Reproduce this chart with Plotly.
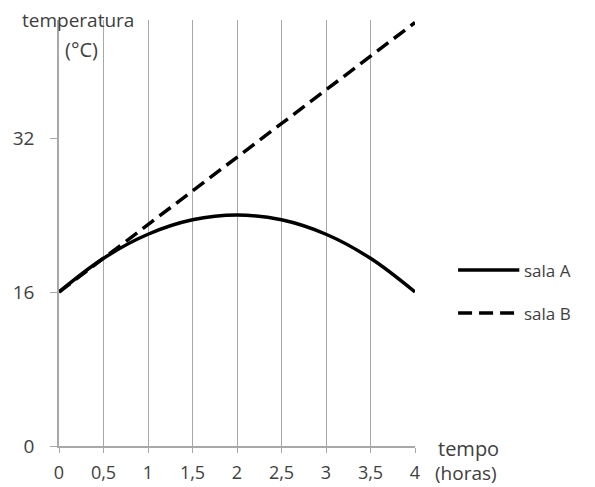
import plotly.graph_objects as go

tempo = [0, 0.5, 1, 1.5, 2, 2.5, 3, 3.5, 4]
sala_a = [16, 19.5, 22, 23.5, 24, 23.5, 22, 19.5, 16]
sala_b = [16, 19.5, 23, 26.5, 30, 33.5, 37, 40.5, 44]
x_ticks = [0, 0.5, 1, 1.5, 2, 2.5, 3, 3.5, 4]
x_labels = ["0", "0,5", "1", "1,5", "2", "2,5", "3", "3,5", "4"]
y_ticks = [0, 16, 32]
y_labels = ["0", "16", "32"]
series_names = ["sala A", "sala B"]

FONT = "Open Sans"
TXT = "#404040"
GRID = "#a8a8a8"
DASH = "14px,7px"

fig = go.Figure()
fig.add_trace(go.Scatter(x=tempo, y=sala_b, mode="lines", name=series_names[1],
                         line=dict(color="black", width=3.5, dash=DASH)))
fig.add_trace(go.Scatter(x=tempo, y=sala_a, mode="lines", name=series_names[0],
                         line=dict(color="black", width=3.5, shape="spline")))

# page is drawn with an 8px body offset, margins compensate
fig.update_layout(
    width=595, height=487,
    margin=dict(l=51, r=188, t=12, b=49, autoexpand=False),
    paper_bgcolor="white", plot_bgcolor="white",
    font=dict(family=FONT, size=19, color=TXT),
    showlegend=False,
    xaxis=dict(range=[0, 4], tickvals=x_ticks, ticktext=x_labels,
               showgrid=True, gridcolor=GRID, gridwidth=1.3,
               showline=True, linecolor=GRID, linewidth=1.5,
               ticks="outside", ticklen=5, tickcolor=GRID, tickwidth=1.3,
               ticklabelstandoff=5, automargin=False,
               zeroline=False, tickfont=dict(size=18, color=TXT)),
    yaxis=dict(range=[0, 44.26], tickvals=y_ticks, ticktext=y_labels,
               showgrid=False, showline=True, linecolor=GRID, linewidth=1.5,
               ticks="outside", ticklen=7, tickcolor=GRID, tickwidth=1.3,
               ticklabelstandoff=12, automargin=False,
               zeroline=False, tickfont=dict(size=19, color=TXT)),
)

# manual legend keys
leg_y = [0.413, 0.312]
leg_dash = ["solid", DASH]
for name, yy, d in zip(series_names, leg_y, leg_dash):
    fig.add_shape(type="line", xref="paper", yref="paper",
                  x0=1.121, x1=1.293, y0=yy, y1=yy,
                  line=dict(color="black", width=3.5, dash=d))
    fig.add_annotation(text=name, xref="paper", yref="paper",
                       x=1.300, y=yy, xanchor="left", yanchor="middle",
                       showarrow=False, font=dict(size=17, color=TXT))

fig.add_annotation(text="temperatura", xref="paper", yref="paper",
                   x=-0.107, y=1.0, xanchor="left", yanchor="middle",
                   showarrow=False, borderpad=0, font=dict(size=19, color=TXT))
fig.add_annotation(text="(°C)", xref="paper", yref="paper",
                   x=0.011, y=0.9296, xanchor="left", yanchor="middle",
                   showarrow=False, font=dict(size=20, color=TXT))
fig.add_annotation(text="tempo", xref="paper", yref="paper",
                   x=1.059, y=-0.005, xanchor="left", yanchor="middle",
                   showarrow=False, font=dict(size=20, color=TXT))
fig.add_annotation(text="(horas)", xref="paper", yref="paper",
                   x=1.053, y=-0.064, xanchor="left", yanchor="middle",
                   showarrow=False, borderpad=0, font=dict(size=19, color=TXT))

fig.write_html("out.html")
